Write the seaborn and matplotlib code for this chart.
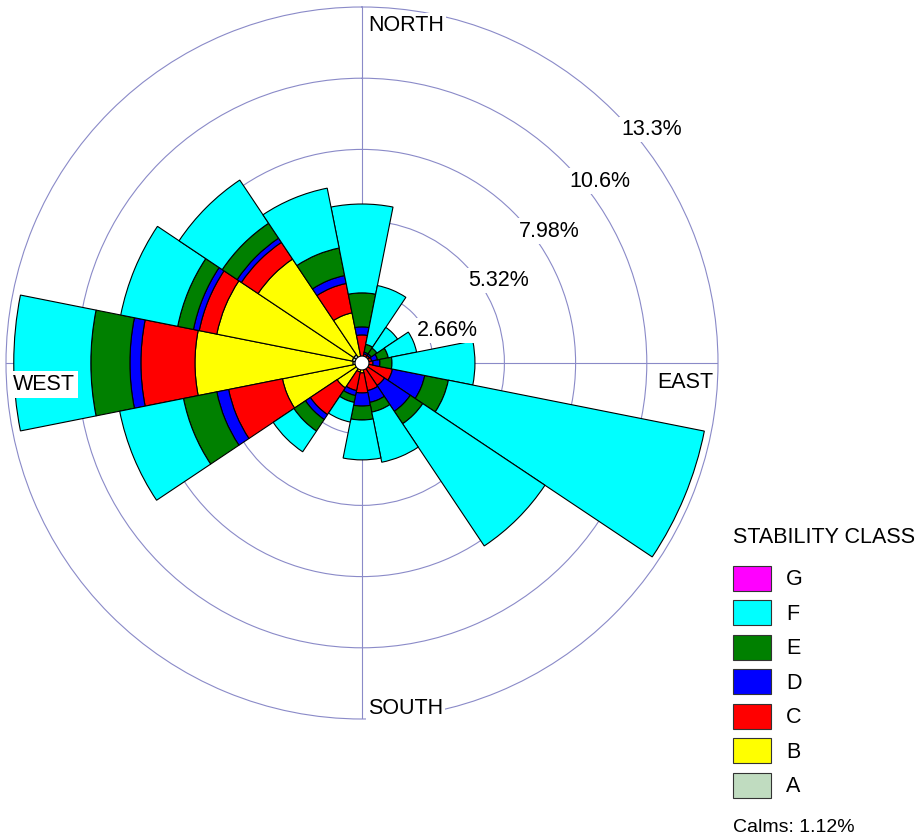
"""Wind rose by stability class"""
import numpy as np
import pandas as pd
import seaborn as sns
import matplotlib.pyplot as plt
from matplotlib.patches import Patch

directions = ["N", "NNE", "NE", "ENE", "E", "ESE", "SE", "SSE",
              "S", "SSW", "SW", "WSW", "W", "WNW", "NW", "NNW"]
# frequency (%) per stability class and direction
cls_a = [0, 0, 0, 0, 0, 0, 0, 0, 0, 0, 0, 0, 0.34, 0.37, 0.37, 0]
cls_b = [0, 0, 0, 0, 0, 0, 0, 0, 0.37, 0.34, 1.12, 3.03, 5.90, 5.16, 4.30, 1.91]
cls_c = [1.05, 0.34, 0.34, 0.37, 0.41, 1.16, 1.01, 1.05, 0.75, 0.71, 1.20, 2.05, 2.02, 0.67, 0.75, 1.12]
cls_d = [0.30, 0.07, 0.07, 0.22, 0.26, 1.23, 1.16, 0.45, 0.49, 0.19, 0.22, 0.45, 0.41, 0.22, 0.19, 0.30]
cls_e = [1.27, 0.30, 0.26, 0.41, 0.45, 0.90, 0.56, 0.37, 0.52, 0.26, 0.52, 1.27, 1.46, 0.60, 0.67, 1.05]
cls_f = [3.32, 2.24, 0.93, 1.08, 3.10, 9.75, 5.49, 1.91, 1.49, 0.75, 0.93, 2.43, 2.88, 2.17, 1.94, 2.28]
cls_g = [0] * 16

class_names = ["A", "B", "C", "D", "E", "F", "G"]
class_colors = ["#c0dcc0", "#ffff00", "#ff0000", "#0000ff", "#008000", "#00ffff", "#ff00ff"]
ring_values = [2.66, 5.32, 7.98, 10.64, 13.3]
ring_labels = ["2.66%", "5.32%", "7.98%", "10.6%", "13.3%"]
calms = 1.12

df = pd.DataFrame({"A": cls_a, "B": cls_b, "C": cls_c, "D": cls_d,
                   "E": cls_e, "F": cls_f, "G": cls_g}, index=directions)

sns.set_style("white")
plt.rcParams["font.family"] = ["Liberation Sans", "DejaVu Sans"]
plt.rcParams["text.color"] = "black"
fs = 15.5
grid_c = "#8a8ac8"

W, H = 922, 839
fig = plt.figure(figsize=(W / 100, H / 100), dpi=100)
# polar area: centre (362, 363), radius 356 px
ax = fig.add_axes([6 / W, 1 - 719 / H, 712 / W, 712 / H], projection="polar")
ax.set_theta_zero_location("N")
ax.set_theta_direction(-1)
ax.set_rlim(0, ring_values[-1])
ax.set_rticks(ring_values[:-1])
ax.set_yticklabels([])
ax.set_xticks(np.radians([0, 90, 180, 270]))
ax.set_xticklabels([])
ax.grid(True, color=grid_c, lw=0.8)
ax.spines["polar"].set_color(grid_c)
ax.spines["polar"].set_linewidth(0.8)
ax.set_axisbelow(True)

theta = np.radians(np.arange(len(directions)) * 22.5)
width = 2 * np.pi / len(directions)
bottom = np.zeros(len(directions))
for name, color in zip(class_names, class_colors):
    vals = df[name].values
    mask = vals > 0
    if mask.any():
        ax.bar(theta[mask], vals[mask], width=width, bottom=bottom[mask],
               color=color, edgecolor="black", linewidth=0.8, zorder=2)
    bottom = bottom + vals

# calms circle
t = np.linspace(0, 2 * np.pi, 200)
ax.fill(t, np.full_like(t, 0.26), facecolor="white", edgecolor="black", lw=0.8, zorder=4)

# ring labels (compass angle, radius)
label_pos = [(69.2, 3.42), (58.9, 5.96), (54.8, 8.55), (52.6, 11.19), (51.1, 13.9)]
box = dict(facecolor="white", edgecolor="none", pad=1.5)
for (ang, r), lab in zip(label_pos, ring_labels):
    ax.text(np.radians(ang), r, lab, ha="center", va="center", fontsize=fs,
            bbox=box, zorder=10, clip_on=False)


def ftext(x, y, s, size=fs, **kw):
    fig.text(x / W, 1 - y / H, s, fontsize=size, **kw)


ftext(368, 31, "NORTH", ha="left", va="baseline", bbox=box)
ftext(713, 388, "EAST", ha="right", va="baseline", bbox=box)
ftext(368, 714, "SOUTH", ha="left", va="baseline", bbox=box)
ftext(13, 390, "WEST", ha="left", va="baseline", bbox=dict(facecolor="white", edgecolor="none", pad=2.5))

# legend
ftext(733, 543, "STABILITY CLASS", ha="left", va="baseline")
handles = [Patch(facecolor=c, edgecolor="#333333", linewidth=0.8) for c in class_colors][::-1]
fig.legend(handles, class_names[::-1], loc="upper left",
           bbox_to_anchor=(733 / W, 1 - 566 / H), frameon=False,
           borderpad=0, borderaxespad=0, fontsize=fs,
           handlelength=1.77, handleheight=1.38, labelspacing=0.46, handletextpad=0.70)
ftext(733, 832, "Calms: %.2f%%" % calms, size=14, ha="left", va="baseline")

fig.savefig("out.png", dpi=100)
